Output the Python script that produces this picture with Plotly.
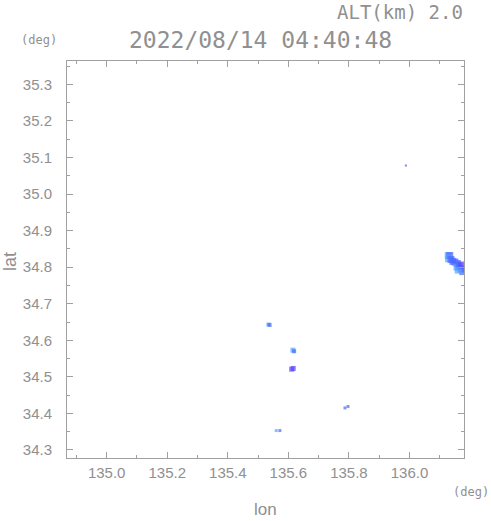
import plotly.graph_objects as go

# ---- data ----
lon = [136.128, 136.133, 136.129, 136.137, 136.143, 136.150, 136.158, 136.157,
       136.164, 136.170, 136.176, 136.161, 136.172,
       135.534, 135.538, 135.615, 135.619, 135.611, 135.616,
       135.787, 135.797, 135.560, 135.572, 135.988]
lat = [34.832, 34.832, 34.823, 34.821, 34.816, 34.814, 34.810, 34.800,
       34.803, 34.795, 34.788, 34.792, 34.806,
       34.643, 34.642, 34.573, 34.570, 34.521, 34.523,
       34.415, 34.419, 34.353, 34.353, 35.078]
value = [22, 28, 22, 28, 28, 28, 28, 22,
         28, 28, 28, 22, 34,
         22, 28, 22, 28, 34, 34,
         28, 28, 22, 28, 34]
xticks = [135.0, 135.2, 135.4, 135.6, 135.8, 136.0]
yticks = [34.3, 34.4, 34.5, 34.6, 34.7, 34.8, 34.9, 35.0, 35.1, 35.2, 35.3]
title_time = "2022/08/14 04:40:48"
alt_label = "ALT(km) 2.0"

# ---- styles ----
n_cluster = 13
sizes = [7] * n_cluster + [4, 4, 5, 4, 5, 5, 3, 3, 3, 3, 2]
colorscale = [[0.0, "#52a6ff"], [0.33, "#52a6ff"], [0.34, "#4a66ff"],
              [0.66, "#4a66ff"], [0.67, "#5a46ff"], [1.0, "#5a46ff"]]

GREY = "#909090"
AX = "#a0a0a0"
MONO = "DejaVu Sans Mono"
SANS = "Liberation Sans"

W, H = 491, 521
L, R, T, B = 67, 27, 61, 63

fig = go.Figure()
fig.add_trace(go.Scatter(
    x=lon, y=lat, mode="markers",
    marker=dict(symbol="square", size=sizes, color=value, colorscale=colorscale,
                cmin=20, cmax=36, line=dict(width=0)),
    hoverinfo="skip", showlegend=False))

axis_common = dict(showgrid=False, zeroline=False, showline=True, linecolor=AX,
                   linewidth=1, mirror="ticks", ticks="inside", tickcolor=AX,
                   ticklen=6, tickwidth=1,
                   tickfont=dict(family=SANS, size=15, color=GREY))

fig.update_xaxes(range=[134.869, 136.180], tickvals=xticks,
                 ticktext=[f"{v:.1f}" for v in xticks], ticklabelstandoff=1,
                 minor=dict(dtick=0.1, tick0=135.0, ticks="inside", ticklen=3,
                            tickcolor=AX, showgrid=False),
                 **axis_common)
fig.update_yaxes(range=[34.278, 35.364], tickvals=yticks,
                 ticktext=[f"{v:.1f}" for v in yticks], ticklabelstandoff=11,
                 minor=dict(dtick=0.05, tick0=34.3, ticks="inside", ticklen=3,
                            tickcolor=AX, showgrid=False),
                 **axis_common)

pw = W - L - R
ph = H - T - B
ann = [
    dict(text=title_time, x=260, y=40, font=dict(family=MONO, size=23, color=GREY)),
    dict(text=alt_label, x=400, y=12, font=dict(family=MONO, size=19, color=GREY)),
    dict(text="(deg)", x=39, y=40, font=dict(family=MONO, size=12, color=GREY)),
    dict(text="(deg)", x=471, y=492, font=dict(family=MONO, size=12, color=GREY)),
    dict(text="lon", x=265, y=509, font=dict(family=SANS, size=17, color=GREY)),
    dict(text="lat", x=10, y=262, textangle=-90, font=dict(family=SANS, size=18, color=GREY)),
]
annotations = []
for a in ann:
    d = dict(xref="paper", yref="paper", showarrow=False,
             xanchor="center", yanchor="middle",
             x=(a["x"] - L) / pw, y=(T + ph - a["y"]) / ph,
             text=a["text"], font=a["font"])
    if "textangle" in a:
        d["textangle"] = a["textangle"]
    annotations.append(d)

fig.update_layout(width=W, height=H,
                  margin=dict(l=L, r=R, t=T, b=B),
                  paper_bgcolor="white", plot_bgcolor="white",
                  annotations=annotations)

fig.write_html("out.html", config={"displayModeBar": False},
               post_script="document.body.style.margin='0';document.body.style.padding='0';")
